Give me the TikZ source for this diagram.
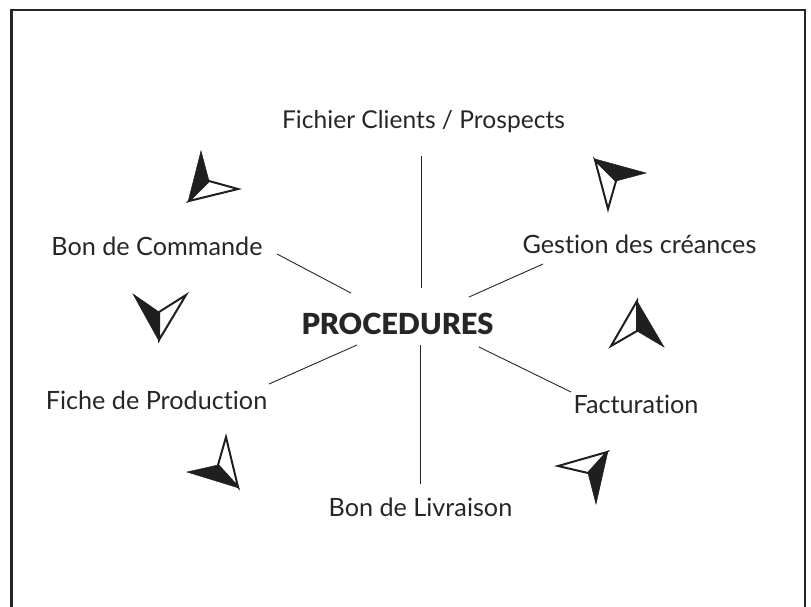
\documentclass[tikz,border=0pt]{standalone}
\usepackage{fontspec}
\setmainfont[Ligatures=NoCommon,BoldFont={Lato Black}]{Lato}
\tikzstyle{poste}=[anchor=base, inner sep=0pt, font=\fontsize{25.2}{30}\selectfont, text=black!85]
\tikzstyle{fichierposte}=[anchor=base, inner sep=0pt, font=\fontsize{24.6}{30}\selectfont, text=black!85]
\tikzstyle{titre}=[anchor=base, inner sep=0pt, font=\fontsize{29}{36}\selectfont\bfseries, text=black!85]
\tikzstyle{link}=[-, draw=black!85, line width=0.9]
\tikzstyle{noir}=[fill=black!88, draw=black!88, line width=0.5, line join=miter]
\tikzstyle{blanc}=[fill=white, draw=black!88, line width=2, line join=miter]
\begin{document}
\begin{tikzpicture}[x=1pt, y=-1pt]
    \useasboundingbox (0, 0) rectangle (811, 606);
    \clip (0, 0) rectangle (811, 606);
    \draw [draw=black!85, line width=2.2] (11.5, 10) rectangle (805, 620);

    \node [style=titre] (proc) at (397.5, 334) {PROCEDURES};
    \node [style=fichierposte] (fichier) at (423.5, 128) {Fichier Clients / Prospects};
    \node [style=poste] (commande) at (157, 255) {Bon de Commande};
    \node [style=poste] (gestion) at (639.5, 253) {Gestion des créances};
    \node [style=poste] (production) at (156.5, 409) {Fiche de Production};
    \node [style=poste] (facturation) at (636, 413) {Facturation};
    \node [style=poste] (livraison) at (420.5, 516) {Bon de Livraison};

    \coordinate (a1) at (421, 156);
    \coordinate (b1) at (421, 288);
    \coordinate (a2) at (277, 254);
    \coordinate (b2) at (351, 293);
    \coordinate (a3) at (543, 264);
    \coordinate (b3) at (469, 297);
    \coordinate (a4) at (269, 384);
    \coordinate (b4) at (357, 345);
    \coordinate (a5) at (420.5, 484);
    \coordinate (b5) at (420.5, 345);
    \coordinate (a6) at (571, 392);
    \coordinate (b6) at (479, 347);

    \draw [style=link] (a1) -- (b1);
    \draw [style=link] (a2) -- (b2);
    \draw [style=link] (a3) -- (b3);
    \draw [style=link] (a4) -- (b4);
    \draw [style=link] (a5) -- (b5);
    \draw [style=link] (a6) -- (b6);

    % fleches
    \draw [style=blanc] (209, 181) -- (238, 189) -- (189, 201) -- cycle;
    \fill [style=noir] (201, 151) -- (209, 181) -- (188, 202) -- cycle;

    \draw [style=blanc] (616, 181) -- (608, 209) -- (595, 160) -- cycle;
    \fill [style=noir] (595, 159) -- (646, 173) -- (616, 181) -- cycle;

    \draw [style=blanc] (637, 331) -- (611, 346) -- (637, 301) -- cycle;
    \fill [style=noir] (637, 301) -- (664, 347) -- (637, 331) -- cycle;

    \draw [style=blanc] (588, 473) -- (558, 466) -- (607, 452) -- cycle;
    \fill [style=noir] (608, 451) -- (596, 504) -- (588, 473) -- cycle;

    \draw [style=blanc] (218, 465) -- (226, 437) -- (238, 487) -- cycle;
    \fill [style=noir] (239, 488) -- (187, 472) -- (218, 465) -- cycle;

    \draw [style=blanc] (159, 312) -- (186, 295) -- (159, 340) -- cycle;
    \fill [style=noir] (159, 341) -- (133, 294) -- (159, 312) -- cycle;
\end{tikzpicture}
\end{document}
